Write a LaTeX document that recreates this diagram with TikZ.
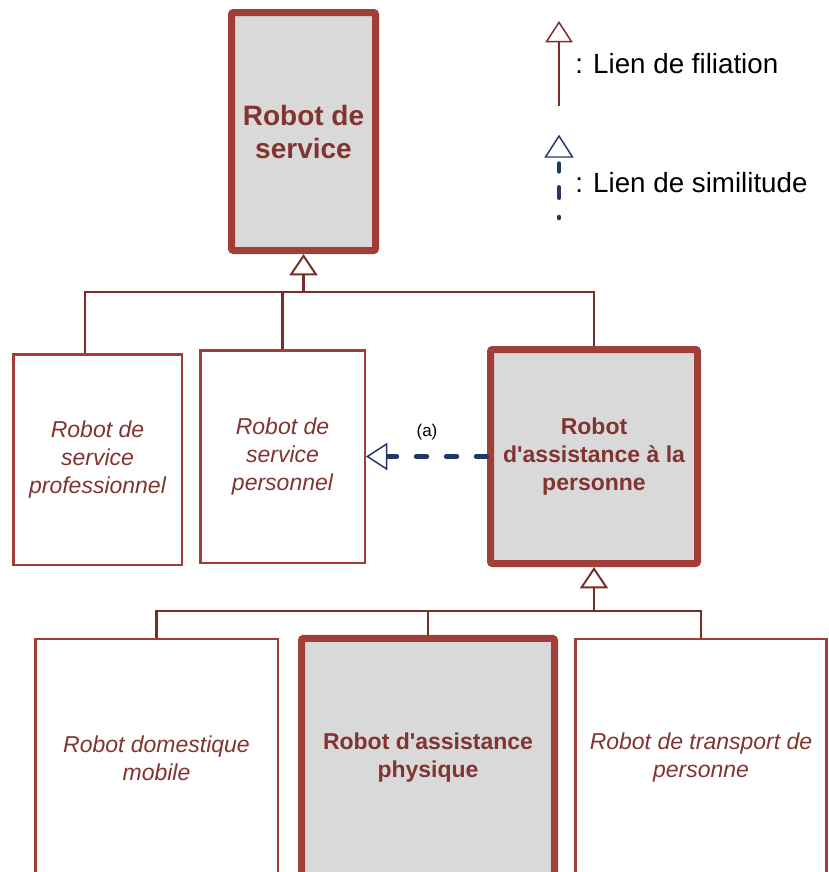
\documentclass[tikz,border=0pt]{standalone}
\usepackage{fontspec}
\newfontfamily\lib{Liberation Sans}
\usetikzlibrary{arrows.meta}
\definecolor{brd}{RGB}{160,62,55}
\definecolor{txt}{RGB}{130,52,48}
\definecolor{lnk}{RGB}{122,45,40}
\definecolor{gry}{RGB}{217,217,217}
\definecolor{nav}{RGB}{31,56,100}
\begin{document}
\begin{tikzpicture}[x=0.75pt,y=-0.75pt,
  thinbox/.style={draw=brd, line width=1.9pt, fill=white, rectangle, align=center, text=txt, font=\lib\fontsize{17.25pt}{21pt}\selectfont\itshape, inner sep=0pt},
  thickbox/.style={draw=brd, line width=5.25pt, fill=gry, rounded corners=1.5pt, rectangle, align=center, text=txt, font=\lib\fontsize{17.25pt}{21pt}\selectfont\bfseries, inner sep=0pt},
  fil/.style={draw=lnk, line width=1.9pt},
  filtip/.style={-{Triangle[open, width=21pt, length=16pt, line width=1.5pt, fill=white]}},
  sim/.style={draw=nav, line width=3.2pt, line cap=round, dash pattern=on 8.25pt off 14.25pt, -{Triangle[open, width=20.5pt, length=16pt, line width=1.1pt, fill=white]}},
  legtext/.style={anchor=base west, inner sep=0pt, font=\lib\fontsize{20.8pt}{24pt}\selectfont, text=black}
]
\useasboundingbox (0,0) rectangle (829,872);

% boxes
\node[thickbox, minimum width=108pt, minimum height=178.5pt, font=\lib\fontsize{21pt}{24.75pt}\selectfont\bfseries] (A) at (303.5,131.5) {Robot de\\service};
\node[thinbox, minimum width=126.4pt, minimum height=157.9pt] (B) at (97.5,459.5) {Robot de\\service\\professionnel};
\node[thinbox, minimum width=123.4pt, minimum height=159.4pt] (C) at (282.5,456.5) {Robot de\\service\\personnel};
\node[thickbox, minimum width=155.25pt, minimum height=160.5pt] (D) at (594,456.5) {Robot\\d'assistance à la\\personne};
\node[thinbox, minimum width=181.9pt, minimum height=178.5pt] (E) at (156.5,758) {Robot domestique\\mobile};
\node[thickbox, minimum width=189.75pt, minimum height=178.9pt] (F) at (428,757.75) {Robot d'assistance\\physique};
\node[thinbox, minimum width=188.6pt, minimum height=178.3pt] (G) at (701,758) {Robot de transport de\\personne};

% filiation links, level 1
\coordinate (barA) at (303.5,292);
\draw[fil] ([xshift=-9.375pt]B.north) |- (barA);
\draw[fil] (C.north) |- (barA);
\draw[fil] (D.north) |- (barA);
\draw[fil, filtip] (barA) -- (A.south);

% filiation links, level 2
\coordinate (barD) at (594,611);
\draw[fil] (E.north) |- (barD);
\draw[fil] (F.north) |- (barD);
\draw[fil] (G.north) |- (barD);
\draw[fil, filtip] (barD) -- (D.south);

% similitude link
\draw[sim] (D.west) -- (C.east);
\node[font=\lib\fontsize{12.75pt}{14pt}\selectfont, inner sep=0pt] (la) at (427,432) {(a)};

% legend
\coordinate (f0) at (559,106);
\coordinate (f1) at (559,21);
\draw[draw=lnk, line width=1.6pt, -{Triangle[open, width=20.5pt, length=16pt, line width=1.1pt, fill=white]}] (f0) -- (f1);
\node[legtext] (lf) at (575,73) {: Lien de filiation};

\draw[draw=nav, line width=1.1pt, fill=white] (545.5,157) -- (559,136) -- (572.5,157) -- cycle;
\draw[draw=nav, line width=3.2pt, line cap=round] (559,163.5) -- (559,171.5);
\draw[draw=nav, line width=3pt, line cap=round] (559,187) -- (559,198);
\draw[draw=nav, line width=2.6pt, line cap=round] (559,216.5) -- (559,218.5);
\node[legtext] (ls) at (575,192) {: Lien de similitude};
\end{tikzpicture}
\end{document}
